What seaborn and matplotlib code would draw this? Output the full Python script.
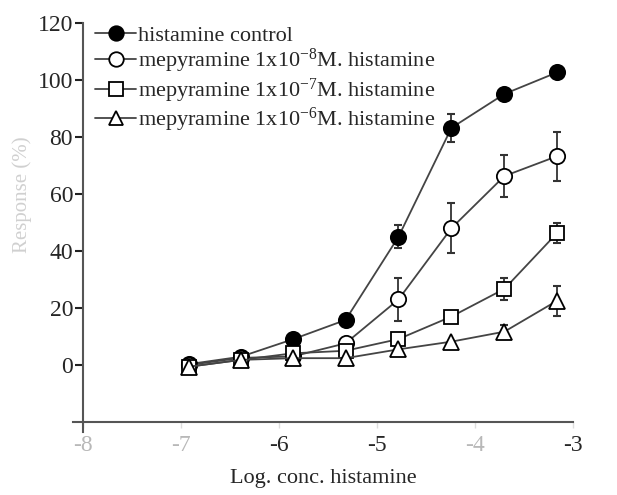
import numpy as np
import pandas as pd
import matplotlib
matplotlib.use("Agg")
import matplotlib.pyplot as plt
from matplotlib.lines import Line2D
import seaborn as sns

# ---- data ----
log_conc = [-6.92, -6.39, -5.86, -5.32, -4.78, -4.24, -3.70, -3.16]
control = [0.3, 2.9, 9.0, 15.8, 45.0, 83.2, 95.1, 102.7]
control_err = [0, 0, 0, 0, 4.0, 5.0, 0, 0]
mep8 = [0.0, 2.5, 3.0, 7.6, 23.0, 48.0, 66.3, 73.3]
mep8_err = [0, 0, 0, 0, 7.6, 8.8, 7.5, 8.6]
mep7 = [-0.6, 1.8, 4.1, 5.0, 9.1, 17.0, 26.7, 46.4]
mep7_err = [0, 0, 0, 0, 0, 0, 3.8, 3.5]
mep6 = [-0.6, 1.8, 2.4, 2.4, 5.5, 8.2, 11.7, 22.6]
mep6_err = [0, 0, 0, 0, 0, 0, 2.5, 5.3]

labels = ["histamine control",
          r"mepyramine 1x10$^{-8}$M. histamine",
          r"mepyramine 1x10$^{-7}$M. histamine",
          r"mepyramine 1x10$^{-6}$M. histamine"]
x_ticks = [-8, -7, -6, -5, -4, -3]
y_ticks = [0, 20, 40, 60, 80, 100, 120]

series = [(control, control_err, "o", "black"),
          (mep8, mep8_err, "o", "white"),
          (mep7, mep7_err, "s", "white"),
          (mep6, mep6_err, "^", "white")]

sns.set_theme(style="ticks")
plt.rcParams["font.family"] = ["Liberation Serif", "DejaVu Serif"]
plt.rcParams["mathtext.fontset"] = "custom"
plt.rcParams["mathtext.rm"] = "Liberation Serif"
plt.rcParams["mathtext.it"] = "Liberation Serif:italic"

fig = plt.figure(figsize=(6.17, 4.95), dpi=100)
ax = fig.add_axes([73 / 617, 1 - 432 / 495, 500 / 617, (432 - 23) / 495])

line_col = "#444444"
handles = []
for (vals, errs, mk, face), lab in zip(series, labels):
    df = pd.DataFrame({"x": log_conc, "y": vals})
    xs = [x for x, e in zip(log_conc, errs) if e > 0]
    ys = [y for y, e in zip(vals, errs) if e > 0]
    es = [e for e in errs if e > 0]
    if es:
        ax.errorbar(xs, ys, yerr=es, fmt="none", ecolor="#333333",
                    elinewidth=1.3, capsize=3, capthick=1.5, zorder=2)
    ms = 11 if mk == "o" else (10.5 if mk == "s" else 11)
    sns.lineplot(data=df, x="x", y="y", ax=ax, color=line_col, linewidth=1.3,
                 marker=mk, markersize=ms, markerfacecolor=face,
                 markeredgecolor="black", markeredgewidth=1.3, zorder=3,
                 legend=False)
    handles.append(Line2D([], [], color=line_col, linewidth=1.3, marker=mk,
                          markersize=ms, markerfacecolor=face,
                          markeredgecolor="black", markeredgewidth=1.3))

ax.legend(handles, labels, loc="upper left", frameon=False,
          bbox_to_anchor=(95 / 617, 1 - 25 / 495), bbox_transform=fig.transFigure,
          fontsize=16, handlelength=1.85, handletextpad=0.1, labelspacing=0.06,
          borderpad=0, borderaxespad=0, markerscale=0.95)

ax.set_xlim(-8.1, -3)
ax.set_ylim(-23.5, 120)
ax.spines["left"].set_position(("data", -8))
ax.spines["bottom"].set_position(("data", -20))
ax.spines["top"].set_visible(False)
ax.spines["right"].set_visible(False)
for s in ("left", "bottom"):
    ax.spines[s].set_color("#555555")
    ax.spines[s].set_linewidth(1.5)

ax.set_xticks(x_ticks)
ax.set_xticklabels([str(t) for t in x_ticks])
ax.set_yticks(y_ticks)
ax.set_yticklabels([str(t) for t in y_ticks])
ax.tick_params(axis="y", direction="out", length=6, width=1.5, color="#222222",
               labelsize=17, pad=1)
ax.tick_params(axis="x", direction="out", length=4, width=1.0, color="#dddddd",
               labelsize=17, pad=5)
for t in ax.get_xticklabels():
    if t.get_text() in ("-8", "-7", "-4"):
        t.set_color("#b8b8b8")

ax.set_xlabel("Log. conc. histamine", fontsize=16, labelpad=10)
fig.text(22 / 617, 1 - 195 / 495, "Response (%)", rotation=90, fontsize=15,
         color="#d0d0d0", ha="center", va="center")
ax.set_ylabel("")

fig.savefig("out.png", dpi=100)
